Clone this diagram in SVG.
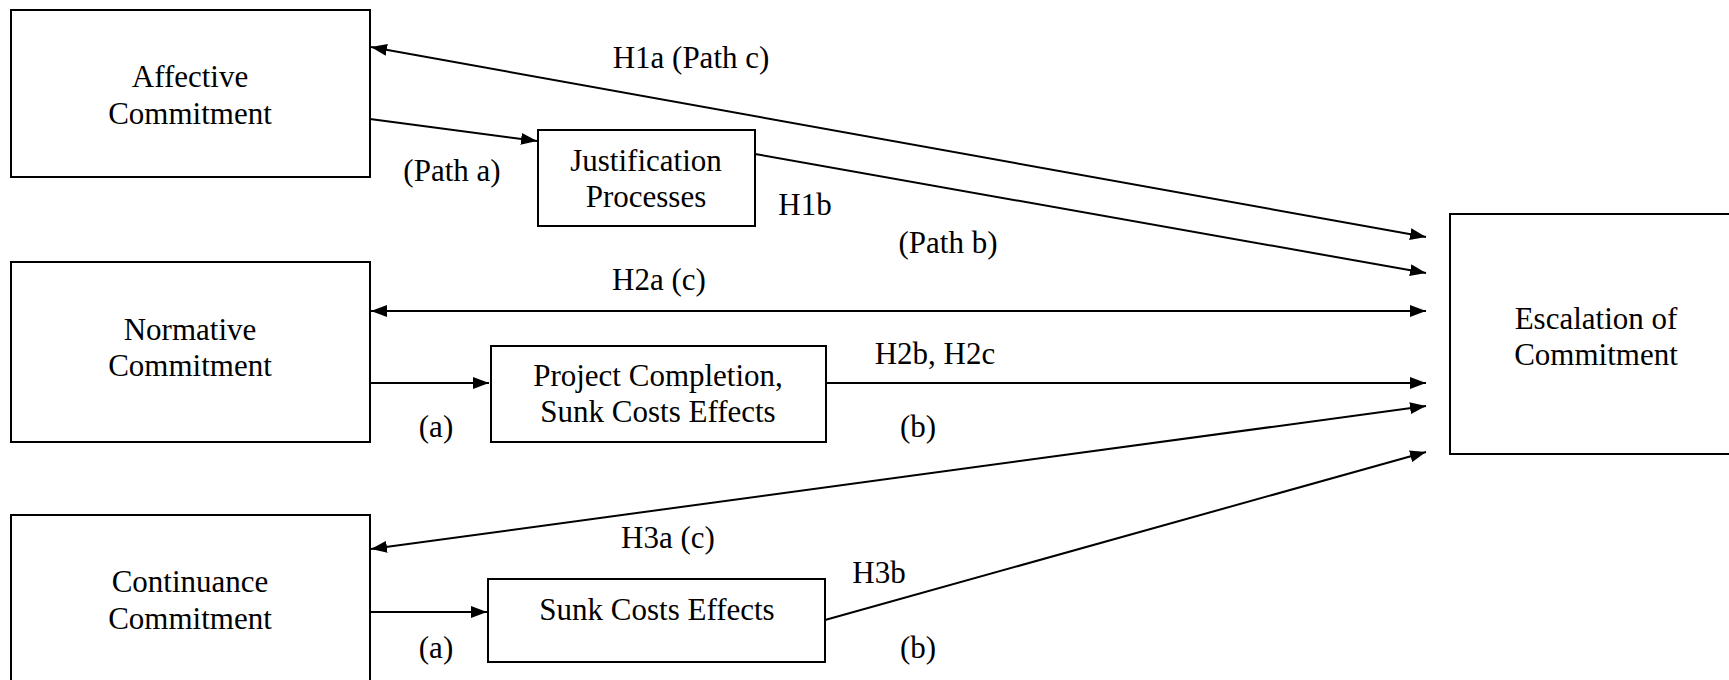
<svg xmlns="http://www.w3.org/2000/svg" width="1729" height="680" viewBox="0 0 1729 680">
<style>
.box{fill:#fff;stroke:#000;stroke-width:2}
.t{font-family:"Liberation Serif",serif;font-size:31px;fill:#000;text-anchor:middle}
.c{stroke:#000;stroke-width:2;fill:none}
</style>
<defs>
<marker id="ah" viewBox="0 0 16 12" refX="16" refY="6" markerWidth="16" markerHeight="12" markerUnits="userSpaceOnUse" orient="auto-start-reverse">
<path d="M0,0 L16,6 L0,12 z" fill="#000"/>
</marker>
</defs>
<rect width="1729" height="680" fill="#fff"/>
<g id="affective"><rect class="box" x="11" y="10" width="359" height="167"/><text class="t" x="190" y="87">Affective</text><text class="t" x="190" y="124">Commitment</text></g>
<g id="justification"><rect class="box" x="538" y="130" width="217" height="96"/><text class="t" x="646" y="171">Justification</text><text class="t" x="646" y="207">Processes</text></g>
<g id="normative"><rect class="box" x="11" y="262" width="359" height="180"/><text class="t" x="190" y="340">Normative</text><text class="t" x="190" y="376">Commitment</text></g>
<g id="project"><rect class="box" x="491" y="346" width="335" height="96"/><text class="t" x="658" y="386">Project Completion,</text><text class="t" x="658" y="422">Sunk Costs Effects</text></g>
<g id="continuance"><rect class="box" x="11" y="515" width="359" height="180"/><text class="t" x="190" y="592">Continuance</text><text class="t" x="190" y="629">Commitment</text></g>
<g id="sunk"><rect class="box" x="488" y="579" width="337" height="83"/><text class="t" x="657" y="620">Sunk Costs Effects</text></g>
<g id="escalation"><rect class="box" x="1450" y="214" width="300" height="240"/><text class="t" x="1596" y="329">Escalation of</text><text class="t" x="1596" y="365">Commitment</text></g>
<g id="connectors">
<line class="c" x1="370" y1="119" x2="537" y2="141" marker-end="url(#ah)"/>
<line class="c" x1="371" y1="47" x2="1426" y2="237" marker-start="url(#ah)" marker-end="url(#ah)"/>
<line class="c" x1="755" y1="154" x2="1426" y2="273" marker-end="url(#ah)"/>
<line class="c" x1="371" y1="311" x2="1426" y2="311" marker-start="url(#ah)" marker-end="url(#ah)"/>
<line class="c" x1="370" y1="383" x2="489" y2="383" marker-end="url(#ah)"/>
<line class="c" x1="826" y1="383" x2="1426" y2="383" marker-end="url(#ah)"/>
<line class="c" x1="371" y1="549" x2="1426" y2="406" marker-start="url(#ah)" marker-end="url(#ah)"/>
<line class="c" x1="370" y1="612" x2="487" y2="612" marker-end="url(#ah)"/>
<line class="c" x1="825" y1="620" x2="1426" y2="452" marker-end="url(#ah)"/>
</g>
<g id="labels">
<text class="t" x="691" y="68">H1a (Path c)</text>
<text class="t" x="452" y="181">(Path a)</text>
<text class="t" x="805" y="215">H1b</text>
<text class="t" x="948" y="253">(Path b)</text>
<text class="t" x="659" y="290">H2a (c)</text>
<text class="t" x="935" y="364">H2b, H2c</text>
<text class="t" x="436" y="437">(a)</text>
<text class="t" x="918" y="437">(b)</text>
<text class="t" x="668" y="548">H3a (c)</text>
<text class="t" x="879" y="583">H3b</text>
<text class="t" x="436" y="658">(a)</text>
<text class="t" x="918" y="658">(b)</text>
</g>
</svg>
